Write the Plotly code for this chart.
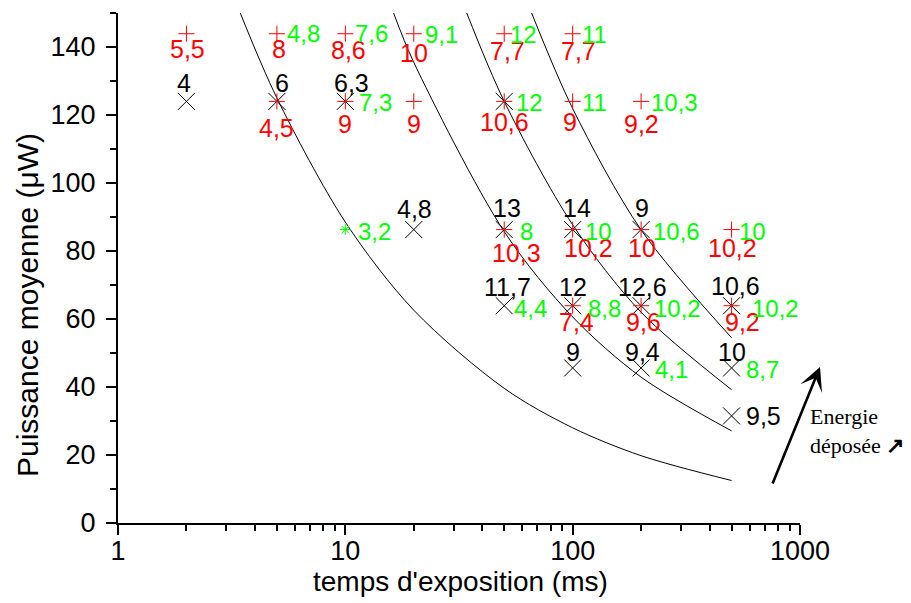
import math
import plotly.graph_objects as go

# ---------------- data ----------------
# iso-energy guide curves (t in ms, P in µW)
curve1_t = [3.45, 5, 10, 20, 50, 100, 200, 500]
curve1_p = [150, 125, 88.5, 62.6, 39.6, 28.0, 19.8, 12.5]
curve2_t = [16.3, 20, 50, 100, 200, 500]
curve2_p = [150, 135.5, 85.7, 60.6, 42.9, 27.1]
curve3_t = [34.2, 50, 100, 200, 500]
curve3_p = [150, 124, 87.7, 62.0, 39.2]
curve4_t = [66, 100, 200, 500]
curve4_p = [150, 121.9, 86.2, 54.5]

# black series (x markers, black values)
black_t = [2, 5, 10, 50, 20, 50, 100, 200, 50, 100, 200, 500, 100, 200, 500, 500]
black_p = [124, 124, 124, 124, 86.3, 86.3, 86.3, 86.3, 63.9, 63.9, 63.9, 63.9, 45.6, 45.6, 45.6, 31.5]
black_lbl = ["4", "6", "6,3", "", "4,8", "13", "14", "9", "11,7", "12", "12,6", "10,6", "9", "9,4", "10", "9,5"]

# red series (+ markers, red values)
red_t = [2, 5, 10, 20, 50, 100, 5, 10, 20, 50, 100, 200, 50, 100, 200, 500, 100, 200, 500]
red_p = [143.9] * 6 + [124] * 6 + [86.3] * 4 + [63.9] * 3
red_lbl = ["5,5", "8", "8,6", "10", "7,7", "7,7",
           "4,5", "9", "9", "10,6", "9", "9,2",
           "10,3", "10,2", "10", "10,2",
           "7,4", "9,6", "9,2"]

# green values (one with * marker)
green_t = [5, 10, 20, 50, 100, 10, 50, 100, 200, 10, 50, 100, 200, 500, 50, 100, 200, 500, 200, 500]
green_p = [143.9] * 5 + [124] * 4 + [86.3] * 5 + [63.9] * 4 + [45.6] * 2
green_lbl = ["4,8", "7,6", "9,1", "12", "11",
             "7,3", "12", "11", "10,3",
             "3,2", "8", "10", "10,6", "10",
             "4,4", "8,8", "10,2", "10,2",
             "4,1", "8,7"]
green_star_t = [10]
green_star_p = [86.3]

x_ticks = [1, 10, 100, 1000]
x_minor = [2, 3, 4, 5, 6, 7, 8, 9, 20, 30, 40, 50, 60, 70, 80, 90, 200, 300, 400, 500, 600, 700, 800, 900]
y_ticks = [0, 20, 40, 60, 80, 100, 120, 140]

# ---------------- label placement offsets (px) ----------------
black_dx = [-2, 5, 6, 0, 1, 3, 4, 1, 3, 0, 1, 4, 0, 1, 0, 14]
black_dy = [18, 18, 18, 0, 21, 21.5, 22, 21.5, 18.5, 18.5, 18.5, 20, 16, 16, 16, 0]
red_dx = [1, 2, 3, 0, 3, 6, 0, 0, 0, 0, -3, 0, 12, 16, 1, 1, 4, 2, 11]
red_dy = [15, 15, 16, 19, 17.5, 17.5, 27, 23, 23, 21, 21, 23, 23.5, 18, 18, 18, 16.5, 16.5, 16.5]
green_dx = [10, 10, 11, 8, 12, 14, 14, 12, 12, 13, 15.5, 15, 14, 10, 10, 15, 15, 23, 14, 14]
green_dy = [0, 0, 1, 1, 1, 1, 1, 1, 1, 2, 2, 2, 2, 2, 2.5, 2.5, 2.5, 2.5, 1.5, 1.5]

FONT = "Liberation Sans, Arial, sans-serif"
BLACK = "#000000"
RED = "#ff0000"
GREEN = "#00ff00"

W, H = 911, 603
ML, MR, MT, MB = 118, 111, 13, 80
PW, PH = W - ML - MR, H - MT - MB


def px_x(px):
    return (px - ML) / PW


def px_y(py):
    return (H - MB - py) / PH


fig = go.Figure()

for ct, cp in [(curve1_t, curve1_p), (curve2_t, curve2_p), (curve3_t, curve3_p), (curve4_t, curve4_p)]:
    fig.add_trace(go.Scatter(x=ct, y=cp, mode="lines",
                             line=dict(color=BLACK, width=1, shape="spline", smoothing=0.9),
                             hoverinfo="skip"))

fig.add_trace(go.Scatter(x=black_t, y=black_p, mode="markers",
                         marker=dict(symbol="x-thin", size=17, color=BLACK,
                                     line=dict(color=BLACK, width=1)), hoverinfo="skip"))
fig.add_trace(go.Scatter(x=red_t, y=red_p, mode="markers",
                         marker=dict(symbol="cross-thin", size=11.5, color=RED,
                                     line=dict(color=RED, width=1)), hoverinfo="skip"))
fig.add_trace(go.Scatter(x=green_star_t, y=green_star_p, mode="markers",
                         marker=dict(symbol="asterisk-open", size=9, color=GREEN,
                                     line=dict(color=GREEN, width=1)), hoverinfo="skip"))

ann = []
for t, p, s, dx, dy in zip(black_t, black_p, black_lbl, black_dx, black_dy):
    if not s:
        continue
    if dy == 0:
        ann.append(dict(x=math.log10(t), y=p, xref="x", yref="y", text=s, showarrow=False,
                        xanchor="left", yanchor="middle", xshift=dx - 2, yshift=0,
                        font=dict(family=FONT, size=25, color=BLACK)))
    else:
        ann.append(dict(x=math.log10(t), y=p, xref="x", yref="y", text=s, showarrow=False,
                        xanchor="center", yanchor="middle", xshift=dx, yshift=dy,
                        font=dict(family=FONT, size=25, color=BLACK)))
for t, p, s, dx, dy in zip(red_t, red_p, red_lbl, red_dx, red_dy):
    ann.append(dict(x=math.log10(t), y=p, xref="x", yref="y", text=s, showarrow=False,
                    xanchor="center", yanchor="middle", xshift=dx, yshift=-dy,
                    font=dict(family=FONT, size=25, color=RED)))
for t, p, s, dx, dy in zip(green_t, green_p, green_lbl, green_dx, green_dy):
    shift = dx - 2 - (2.5 if s.startswith("1") else 0)
    ann.append(dict(x=math.log10(t), y=p, xref="x", yref="y", text=s, showarrow=False,
                    xanchor="left", yanchor="middle", xshift=shift, yshift=-dy,
                    font=dict(family=FONT, size=24, color=GREEN)))

# arrow "Energie déposée"
ann.append(dict(x=px_x(820), y=px_y(367), xref="paper", yref="paper",
                ax=772 - 820, ay=485 - 367, axref="pixel", ayref="pixel",
                text="", showarrow=True, arrowhead=3, arrowsize=1.5, arrowwidth=2.6,
                arrowcolor=BLACK))
ann.append(dict(x=px_x(808), y=px_y(431), xref="paper", yref="paper",
                text="Energie<br>déposée <b>↗</b>", showarrow=False, align="left",
                xanchor="left", yanchor="middle",
                font=dict(family="Liberation Serif, Times New Roman, serif", size=22, color=BLACK)))

# axis titles
ann.append(dict(x=px_x(460), y=px_y(581), xref="paper", yref="paper",
                text="temps d'exposition (ms)", showarrow=False,
                xanchor="center", yanchor="middle",
                font=dict(family=FONT, size=28, color=BLACK)))
ann.append(dict(x=px_x(27), y=px_y(305), xref="paper", yref="paper",
                text="Puissance moyenne (μW)", showarrow=False, textangle=-90,
                xanchor="center", yanchor="middle",
                font=dict(family=FONT, size=30, color=BLACK)))

fig.update_layout(
    width=W, height=H,
    margin=dict(l=ML, r=MR, t=MT, b=MB),
    paper_bgcolor="white", plot_bgcolor="white",
    showlegend=False,
    annotations=ann,
    xaxis=dict(type="log", range=[0, 3], showgrid=False, zeroline=False,
               showline=True, linecolor=BLACK, linewidth=2,
               ticks="outside", ticklen=10, tickwidth=2, tickcolor=BLACK,
               tickvals=x_ticks, ticktext=[str(v) for v in x_ticks],
               ticklabelstandoff=-7,
               tickfont=dict(family=FONT, size=27, color=BLACK),
               minor=dict(tickvals=x_minor, ticks="outside", ticklen=6, tickwidth=2,
                          tickcolor=BLACK, showgrid=False)),
    yaxis=dict(range=[0, 150], showgrid=False, zeroline=False,
               showline=True, linecolor=BLACK, linewidth=2,
               ticks="outside", ticklen=10, tickwidth=2, tickcolor=BLACK,
               tickvals=y_ticks, ticklabelstandoff=5,
               tickfont=dict(family=FONT, size=27, color=BLACK),
               minor=dict(dtick=10, ticks="outside", ticklen=6, tickwidth=2,
                          tickcolor=BLACK, showgrid=False)),
)

fig.write_html("out.html", config={"displayModeBar": False},
               post_script="document.body.style.margin='0px';")
